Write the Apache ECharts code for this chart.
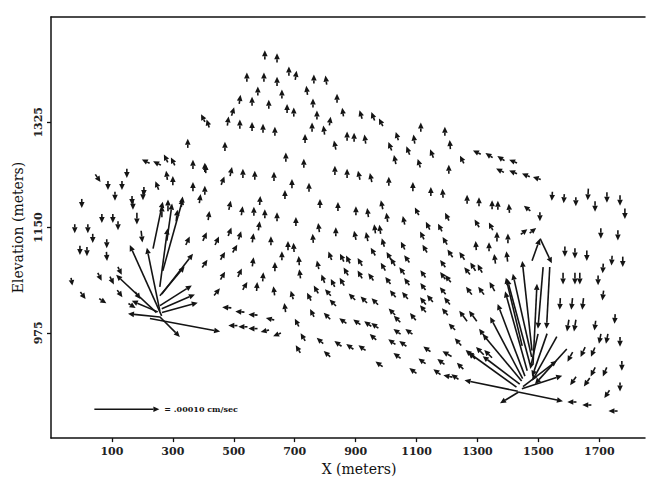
<!DOCTYPE html>
<html>
<head>
<meta charset="utf-8">
<title>Velocity field</title>
<script src="https://cdn.jsdelivr.net/npm/echarts@6.0.0/dist/echarts.min.js"></script>
<style>
  html, body { margin: 0; background: #fff; }
  #chart { width: 652px; height: 481px; }
</style>
</head>
<body>
<div id="chart"></div>
<script>
// axis ticks
const xTicks = [100, 300, 500, 700, 900, 1100, 1300, 1500, 1700];
const yTicks = [975, 1150, 1325];

// each arrow: [x (m), elevation (m), u, v]  (u, v in 1e-6 cm/sec, arrow drawn centred on the node)
const peakArrows = [
  [602,1437,0,14],[642,1432,0,14],[543,1400,0,14],[599,1400,0,14],[642,1393,0,14],[681,1410,0,14],[704,1403,2,14],[763,1397,0,14],[803,1395,-2,14],
  [579,1377,0,14],[520,1363,2,14],[560,1360,0,14],[615,1355,0,14],[658,1372,0,14],[740,1378,-2,14],[675,1348,0,14],[697,1342,0,14],[760,1357,0,14],
  [497,1343,4,13],[481,1327,2,14],[520,1322,0,14],[560,1318,0,14],[596,1315,0,14],[635,1310,0,14],[399,1332,-6,12],[415,1323,-4,12],
  [773,1337,0,14],[816,1327,2,13],[757,1317,0,14],[796,1312,-2,14],[839,1365,0,14],[858,1342,-2,13],[917,1338,-4,13],[957,1335,-5,13],[983,1325,-6,12],
  [734,1298,0,14],[832,1287,-3,14],[872,1302,0,14],[895,1300,0,14],[931,1297,-2,14],[1013,1285,-5,13],[1036,1302,-4,13],[1072,1278,-5,13],[1092,1297,-2,14],[1114,1317,0,14],[1108,1257,-4,13],[1029,1263,-3,14],
  [471,1285,0,14],[671,1267,0,14],[730,1257,0,14],[832,1245,0,14],[872,1240,0,14],[911,1237,-3,14],[950,1233,-3,14],
  [405,1250,0,14],[491,1243,3,14],[530,1240,0,14],[569,1237,0,14],[632,1235,0,14],
  [1193,1310,0,14],[1210,1288,-1,14],[1150,1273,-5,13],[1249,1263,-6,12],
  [1298,1275,-12,6],[1338,1270,-11,7],[1377,1265,-11,7],[1417,1260,-12,5],[1374,1245,-12,6],[1417,1242,-12,5],[1459,1237,-12,5],[1495,1232,-12,4],
  [1206,1247,0,14],[1009,1227,0,14],[1088,1218,0,14],[1147,1210,0,14],[1186,1207,-1,14],[1266,1197,0,14],[1305,1193,0,14],[1348,1188,0,14],[1367,1187,0,14],[1404,1182,-1,14],[1463,1182,-10,8]
];

const midArrows = [
  [783,1190,0,14],[842,1185,0,14],[901,1178,0,14],[940,1175,-2,14],[986,1188,-3,14],[1003,1167,-2,14],[1058,1162,-3,13],[1101,1177,-6,12],[1137,1153,-6,12],[1177,1150,-6,12],[1200,1168,-6,12],[1298,1157,-7,12],[1344,1152,-6,12],[1453,1143,10,8],[1482,1145,10,8],
  [835,1143,0,14],[898,1137,-3,14],[937,1135,-3,14],[963,1148,-2,14],[980,1147,-2,14],[1193,1128,-7,12],[1295,1120,-1,14],[1338,1118,0,14],[1364,1135,0,15],[1400,1132,0,15],[1210,1107,-8,12],[1249,1103,-8,12],
  [691,1223,0,14],[747,1217,0,14],[668,1205,0,14],[586,1195,1,14],[566,1177,0,14],[602,1173,0,14],[642,1168,0,14],[704,1160,0,14],
  [583,1153,2,14],[563,1133,2,14],[622,1128,0,14],[678,1120,0,14],[697,1117,-1,14],[760,1132,-1,14],[779,1150,-2,14],
  [990,1125,-4,13],[1055,1120,-6,12],[1118,1137,-6,12],[1127,1115,-7,12],
  [563,1093,2,14],[635,1085,0,14],[658,1103,0,14],[714,1095,-1,14],[717,1073,-2,14],[776,1088,-3,13],[816,1103,-5,13],[855,1100,-6,12],[875,1097,-6,12],[914,1093,-7,12],[957,1110,-7,12],[990,1085,-7,12],[1009,1103,-7,12],[1068,1098,-8,11],[1052,1078,-8,11],[1121,1073,-8,11],[1186,1090,-8,11],[1186,1070,-8,11],
  [596,1068,1,14],[576,1052,1,14],[632,1045,-2,14],[691,1038,-4,13],[747,1035,-6,12],[793,1065,-5,13],[855,1060,-7,12],[914,1072,-7,12],[950,1068,-8,11],[1006,1062,-8,11],
  [770,1047,-7,12],[809,1042,-9,10],[825,1025,-10,10],[888,1035,-10,10],[927,1030,-10,10],[963,1027,-10,10],[1022,1040,-9,11],[1062,1037,-9,11],[1121,1052,-8,11],[1121,1028,-9,11],[1186,1045,-9,11],[1200,1028,-9,11],
  [668,1017,-2,14],[707,992,-6,12],[757,1008,-6,12],[806,1003,-10,10],[858,995,-11,8],[904,993,-11,8],[940,990,-11,8],[963,987,-11,8],[1019,1010,-10,10],[1036,977,-11,8],[1075,977,-11,8],[1088,1002,-9,11],[1121,1015,-9,11],[1193,1010,-9,11],[1144,1032,-9,11],[1216,985,-10,10],
  [642,972,-12,-5],[727,968,-7,12],[711,948,-7,12],[783,962,-10,9],[806,940,-10,9],[842,957,-11,8],[881,952,-11,8],[921,950,-11,8],[957,968,-10,9],[1019,960,-11,8],[1055,957,-11,8],[1036,937,-11,8],[977,923,-11,8],[1088,912,-11,8],[1118,928,-11,8],[1134,948,-11,8],[1167,910,-11,8],[1180,927,-11,8],[1226,902,-11,8],[1243,920,-10,10],[1282,937,-10,10],
  [1022,1093,-7,12],[825,1058,-6,12],[868,1077,-7,12],[1068,1060,-8,11],[1203,1065,-9,11],[1266,1078,-9,11],[1036,998,-10,10]
];

const leftArrows = [
  [349,1290,0,14],[211,1260,-12,6],[248,1257,-12,6],[277,1265,-6,12],[300,1260,-6,12],[366,1255,0,14],[408,1248,0,14],
  [54,1232,8,-12],[87,1220,0,-14],[133,1220,0,-14],[149,1240,0,-14],[205,1210,0,-14],[248,1220,-5,13],[280,1237,-2,14],[300,1228,0,14],[366,1218,0,14],[405,1212,0,14],[464,1228,5,13],
  [1,1190,0,-14],[67,1165,0,-14],[103,1165,0,-14],[120,1153,0,-14],[169,1187,0,-14],[202,1203,0,-14],[389,1198,2,14],[418,1170,2,14],[487,1187,3,14],[527,1178,2,14],
  [-22,1148,0,-14],[21,1148,0,-14],[110,1202,0,-14],[166,1195,0,-14],[264,1177,0,18],[313,1170,2,18],[330,1193,2,16],[284,1187,0,18],[182,1165,0,-18],
  [198,1135,2,-18],[37,1132,0,-14],[83,1123,0,-14],[-5,1112,0,-14],[18,1110,0,-14],[83,1102,1,-14],
  [349,1128,6,13],[405,1135,6,13],[445,1128,6,13],[487,1143,5,13],[520,1137,4,13],[504,1115,7,12],[464,1103,7,12],[405,1090,8,12],[520,1075,6,13],[464,1070,7,12],[537,1053,7,12],[445,1043,9,11],
  [-32,1060,2,-12],[60,1068,6,-12],[100,1062,6,-12],[126,1078,6,-12],[5,1037,8,-11],[70,1028,11,-7],[126,1040,8,-11],[166,1020,11,-7],[185,1037,8,-11],
  [477,1017,-14,1],[520,1010,-14,1],[563,1005,-14,1],[619,998,-13,3],[497,987,-14,0],[530,985,-14,0],[563,982,-14,0],[602,978,-13,-3]
];

const rightArrows = [
  [1505,1168,0,-14],[1545,1202,-1,-14],[1584,1198,-1,-14],[1623,1193,0,-14],[1663,1205,-1,-18],[1686,1185,0,-16],[1725,1200,0,-16],[1768,1195,0,-16],[1784,1173,0,-16],[1705,1140,0,-16],[1761,1137,0,-16],
  [1587,1110,0,-16],[1620,1107,0,-16],[1659,1103,0,-16],[1696,1062,0,-15],[1712,1082,-1,-15],[1741,1095,-1,-15],[1777,1093,0,-16],
  [1581,1065,0,-18],[1620,1065,0,-18],[1636,1065,0,-18],[1571,1023,-1,-18],[1610,1023,-2,-18],[1646,1023,-2,-18],[1712,1037,-2,-15],[1686,987,-2,-15],[1751,998,-1,-15],[1597,987,-3,-18],[1620,987,-3,-18],[1702,965,-3,-15],[1725,965,-3,-15],[1768,960,0,-15],
  [1679,943,-6,-14],[1604,935,-8,-15],[1646,943,-7,-15],[1718,910,-6,-14],[1679,910,-7,-14],[1774,920,0,-15],[1614,895,-9,-13],[1659,893,-9,-13],[1768,885,0,-14],[1725,873,-8,-12],[1610,860,-14,0],[1659,855,-14,0],[1745,845,-14,0],
  [1253,1003,-12,16],[1285,1003,-12,16],[1318,973,-12,16],[1276,940,-14,12],[1200,940,-14,8],[1203,903,-14,3],
  [1285,1085,-8,13],[1308,1082,-7,13],[1357,1098,-2,15],[1397,1102,-2,16],[1272,1045,-9,12],[1312,1045,-9,12],[1348,1052,-8,14],[1236,960,-10,11],[1308,945,-12,12],[1335,940,-12,12]
];

// long arrows around the two sources
const leftFan = [
  [211,1062,-49,109],[236,1064,-20,97],[300,1138,31,111],[251,1154,15,72],[315,1073,48,62],[310,1037,49,31],[318,1027,51,22],
  [323,1017,55,15],[340,988,108,-20],[290,985,31,-31],[205,1004,-49,5],[208,1019,-40,17],[298,1061,38,45],[289,1159,8,57],
  [180,1040,-62,58],[270,1100,12,90]
];

const rightFan = [
  [1507,869,69,-14],[1404,867,-28,-17],[1345,887,-82,17],[1348,914,-75,54],[1378,913,-57,43],[1381,934,-60,72],[1411,963,-42,111],
  [1427,978,-34,122],[1435,994,-35,131],[1447,1004,-29,128],[1463,1020,-15,138],[1489,990,6,123],[1492,1113,12,34],[1525,1111,18,-38],
  [1507,1033,-8,-95],[1532,1033,-5,-95],[1486,944,-12,-54],[1504,938,-23,-66],[1520,932,-38,-68],[1541,919,-49,-54],[1512,893,62,20],[1505,907,52,40],
  [1395,950,-50,95],[1420,1010,-25,105]
];

// scale arrow
const keyArrow = [[149, 848, 100, 0]];
const keyLabel = "= .00010 cm/sec";

const arrowScale = 0.65; // pixels per 1e-6 cm/sec
const ink = "#141414";

function arrowShapes(api) {
  const c = api.coord([api.value(0), api.value(1)]);
  const dx = api.value(2) * arrowScale;
  const dy = -api.value(3) * arrowScale;
  const len = Math.hypot(dx, dy) || 1;
  const ux = dx / len, uy = dy / len;
  const tail = [c[0] - dx / 2, c[1] - dy / 2];
  const tip = [c[0] + dx / 2, c[1] + dy / 2];
  const hl = Math.min(6, len * 0.7);
  const hw = 2.8;
  const base = [tip[0] - ux * hl, tip[1] - uy * hl];
  return {
    tip,
    c,
    children: [
      {
        type: "line",
        shape: { x1: tail[0], y1: tail[1], x2: base[0], y2: base[1] },
        style: { stroke: ink, lineWidth: 1.6 },
      },
      {
        type: "polygon",
        shape: {
          points: [
            tip,
            [base[0] - uy * hw, base[1] + ux * hw],
            [base[0] + uy * hw, base[1] - ux * hw],
          ],
        },
        style: { fill: ink },
      },
    ],
  };
}

function renderArrow(params, api) {
  return { type: "group", children: arrowShapes(api).children };
}

function renderKey(params, api) {
  const a = arrowShapes(api);
  a.children.push({
    type: "text",
    x: a.tip[0] + 5,
    y: a.c[1],
    style: {
      text: keyLabel,
      fill: ink,
      font: 'bold 8px "DejaVu Serif"',
      align: "left",
      verticalAlign: "middle",
    },
  });
  return { type: "group", children: a.children };
}

const chart = echarts.init(document.getElementById("chart"), null, { renderer: "svg" });

const axisFont = { fontFamily: "DejaVu Serif", fontWeight: "bold", fontSize: 11, color: "#222" };
const nameFont = { fontFamily: "DejaVu Serif", fontSize: 14, color: "#111" };
const plain = (v) => String(v);

const arrowSeries = [peakArrows, midArrows, leftArrows, rightArrows, leftFan, rightFan].map((d) => ({
  type: "custom",
  renderItem: renderArrow,
  data: d,
  silent: true,
  clip: false,
}));

chart.setOption({
  animation: false,
  backgroundColor: "#fff",
  grid: { left: 51, right: 7, top: 17, bottom: 41 },
  xAxis: [
    {
      type: "value",
      min: -100,
      max: 1850,
      name: "X (meters)",
      nameLocation: "middle",
      nameGap: 20,
      nameTextStyle: { ...nameFont, padding: [0, 0, 0, 22] },
      axisLine: { show: true, onZero: false, lineStyle: { color: "#111", width: 1.5 } },
      axisTick: { show: true, customValues: xTicks, length: 4, lineStyle: { color: "#111", width: 1.3 } },
      axisLabel: { customValues: xTicks, margin: 8, formatter: plain, ...axisFont },
      splitLine: { show: false },
    },
    {
      type: "value",
      position: "top",
      min: -100,
      max: 1850,
      axisLine: { show: true, onZero: false, lineStyle: { color: "#111", width: 1.5 } },
      axisTick: { show: false },
      axisLabel: { show: false },
      splitLine: { show: false },
    },
  ],
  yAxis: {
    type: "value",
    min: 800,
    max: 1500,
    name: "Elevation (meters)",
    nameLocation: "middle",
    nameRotate: 90,
    nameGap: 26,
    nameTextStyle: nameFont,
    axisLine: { show: true, onZero: false, lineStyle: { color: "#111", width: 1.5 } },
    axisTick: { show: true, customValues: yTicks, length: 4, lineStyle: { color: "#111", width: 1.3 } },
    axisLabel: { customValues: yTicks, rotate: 90, margin: 7, formatter: plain, ...axisFont },
    splitLine: { show: false },
  },
  series: [
    ...arrowSeries,
    { type: "custom", renderItem: renderKey, data: keyArrow, silent: true, clip: false },
  ],
});
</script>
</body>
</html>
